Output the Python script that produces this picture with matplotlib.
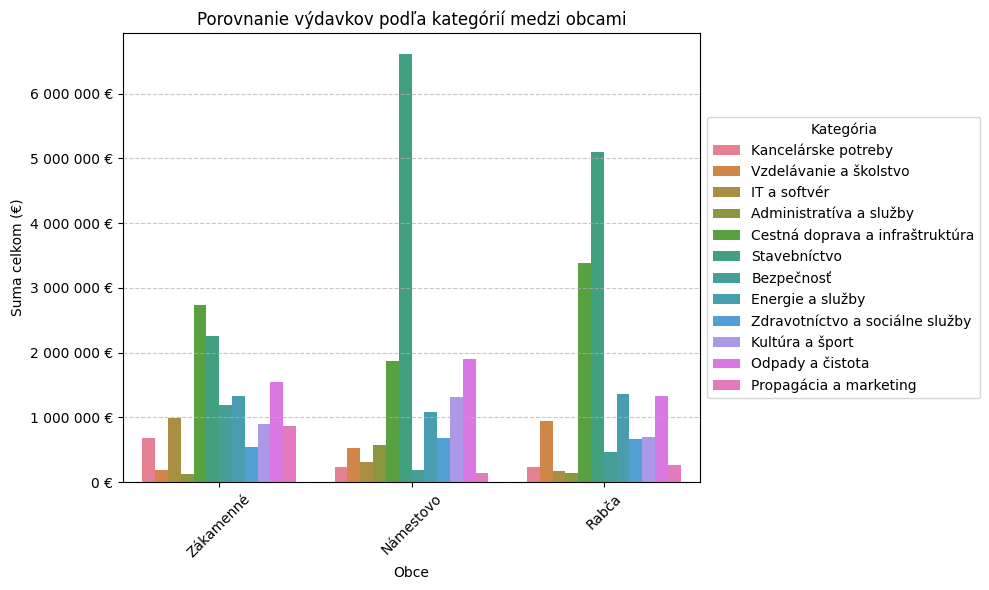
import pandas as pd
import matplotlib.pyplot as plt
import matplotlib.ticker as mticker
import seaborn as sns

obce = ["Zákamenné", "Námestovo", "Rabča"]
kategorie = [
    "Kancelárske potreby",
    "Vzdelávanie a školstvo",
    "IT a softvér",
    "Administratíva a služby",
    "Cestná doprava a infraštruktúra",
    "Stavebníctvo",
    "Bezpečnosť",
    "Energie a služby",
    "Zdravotníctvo a sociálne služby",
    "Kultúra a šport",
    "Odpady a čistota",
    "Propagácia a marketing",
]
# sumy v eurách, poradie podľa kategórií
zakamenne = [679000, 185000, 987000, 123000, 2730000, 2252000,
             1188000, 1327000, 540000, 895000, 1542000, 864000]
namestovo = [231000, 523000, 308000, 569000, 1862000, 6605000,
             185000, 1077000, 677000, 1308000, 1908000, 138000]
rabca = [231000, 938000, 169000, 138000, 3378000, 5097000,
         462000, 1354000, 662000, 692000, 1323000, 262000]


def format_eur(x, pos):
    return f"{x:,.0f} €".replace(",", " ")


rows = []
for obec, sumy in zip(obce, [zakamenne, namestovo, rabca]):
    for kat, s in zip(kategorie, sumy):
        rows.append({"Obec": obec, "Kategória": kat, "Suma": s})
df = pd.DataFrame(rows)

fig, ax = plt.subplots(figsize=(9.89, 5.9), dpi=100)
sns.barplot(data=df, x="Obec", y="Suma", hue="Kategória",
            hue_order=kategorie, palette="husl", ax=ax)

ax.set_title("Porovnanie výdavkov podľa kategórií medzi obcami")
ax.set_xlabel("Obce")
ax.set_ylabel("Suma celkom (€)")
ax.yaxis.set_major_formatter(mticker.FuncFormatter(format_eur))
ax.grid(axis="y", linestyle="--", alpha=0.7)
plt.xticks(rotation=45)
ax.legend(title="Kategória", bbox_to_anchor=(1.0, 0.5), loc="center left")

fig.subplots_adjust(left=0.1244, right=0.7078, top=0.944, bottom=0.183)
plt.savefig("out.png")
